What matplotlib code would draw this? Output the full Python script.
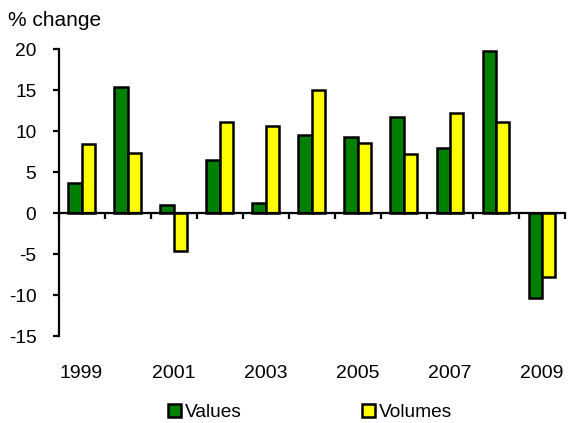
import numpy as np
import matplotlib
matplotlib.use("Agg")
import matplotlib.pyplot as plt

years = list(range(1999, 2010))
values = [3.7, 15.4, 1.0, 6.5, 1.2, 9.6, 9.3, 11.7, 8.0, 19.8, -10.3]
volumes = [8.4, 7.4, -4.6, 11.2, 10.6, 15.1, 8.6, 7.2, 12.2, 11.1, -7.8]
year_labels = [str(y) if y % 2 == 1 else "" for y in years]

plt.rcParams['font.family'] = ['Liberation Sans', 'DejaVu Sans']
plt.rcParams['axes.unicode_minus'] = False

fig = plt.figure(figsize=(5.7, 4.23), dpi=100)
ax = fig.add_axes([58.5/570, 1-336/423, (565-58.5)/570, (336-49.5)/423])

x = np.arange(len(years))
w = 0.29
ax.bar(x - w/2, values, w, color='#008000', edgecolor='black', linewidth=1.8, label='Values')
ax.bar(x + w/2, volumes, w, color='#FFFF00', edgecolor='black', linewidth=1.8, label='Volumes')

ax.set_xlim(-0.5, len(years) - 0.5)
ax.set_ylim(-15, 20)
ax.set_yticks(range(-15, 21, 5))

ax.spines['top'].set_visible(False)
ax.spines['right'].set_visible(False)
ax.spines['bottom'].set_position(('data', 0))
ax.spines['left'].set_linewidth(1.6)
ax.spines['bottom'].set_linewidth(1.6)

# labels at category centres, tick marks at category boundaries
ax.set_xticks(x)
ax.set_xticklabels(year_labels, fontsize=14)
ax.set_xticks(np.arange(-0.5, len(years)), minor=True)
ax.tick_params(axis='x', which='major', length=0, pad=109)
ax.tick_params(axis='x', which='minor', direction='out', length=4, width=1.6)
ax.tick_params(axis='y', direction='out', length=4, width=1.6, pad=12, labelsize=13.8)

fig.text(8/570, 1-21/423, '% change', fontsize=15, va='center', ha='left')

fig.legend(loc='center', bbox_to_anchor=(310/570, 1-412.7/423), ncol=2, frameon=False,
           fontsize=13.8, handlelength=0.65, handleheight=0.65, handletextpad=0.2,
           columnspacing=6.3, borderpad=0)

fig.savefig('out.png', dpi=100)
